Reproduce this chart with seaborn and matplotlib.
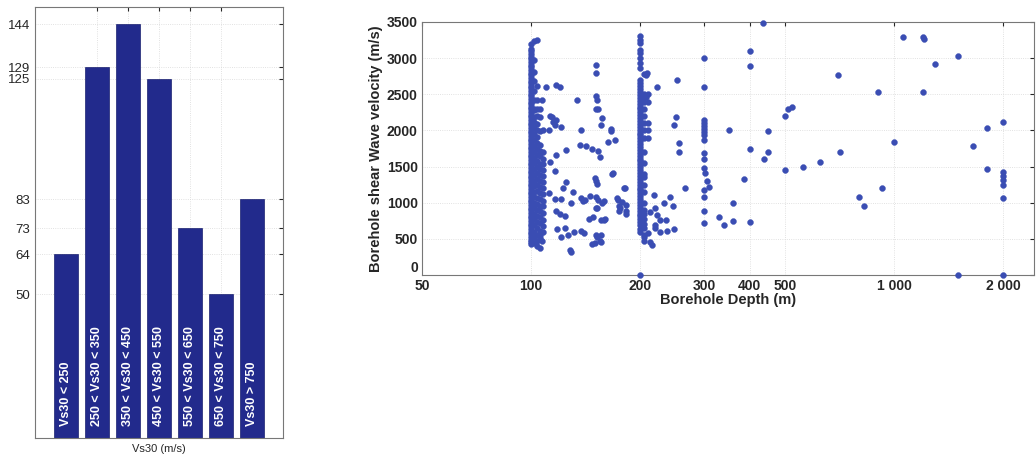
import pandas as pd
import seaborn as sns
import matplotlib.pyplot as plt
from matplotlib.ticker import NullLocator

# --- histogramme Vs30 (gauche)
vs30_classes = ['Vs30 < 250', '250 < Vs30 < 350', '350 < Vs30 < 450', '450 < Vs30 < 550',
                '550 < Vs30 < 650', '650 < Vs30 < 750', 'Vs30 > 750']
vs30_counts = [64, 129, 144, 125, 73, 50, 83]
vs30_yticks = [50, 64, 73, 83, 125, 129, 144]

# --- nuage profondeur / vitesse (droite)
# colonnes de points alignes sur une meme profondeur
vel_d100 = [425, 455, 490, 530, 565, 600, 640, 675, 710, 745, 785, 820, 855, 895, 930, 965,
            1005, 1040, 1075, 1115, 1150, 1190, 1225, 1260, 1300, 1335, 1370, 1410, 1445, 1480,
            1520, 1555, 1590, 1630, 1665, 1700, 1740, 1775, 1810, 1850, 1885, 1920, 1960, 1995,
            2030, 2070, 2105, 2140, 2180, 2215, 2250, 2290, 2325, 2360, 2400, 2435, 2470, 2510,
            2545, 2580, 2620, 2655, 2690, 2730, 2765, 2800, 2840, 2875, 2910, 2950, 2985, 3020,
            3060, 3095, 3130, 3200]
vel_d102 = [440, 520, 600, 690, 770, 840, 920, 1000, 1085, 1150, 1230, 1305, 1390, 1465, 1545,
            1625, 1705, 1790, 1870, 1950, 2030, 2110, 2190, 2280, 2300, 2420, 2550, 2680, 2810,
            2970, 3240]
vel_d104 = [400, 470, 560, 650, 735, 815, 900, 985, 1070, 1160, 1240, 1325, 1405, 1490, 1575,
            1660, 1745, 1830, 1915, 2000, 2090, 2200, 2290, 2420, 2610, 3250]
vel_d106 = [380, 515, 610, 720, 800, 880, 960, 1045, 1130, 1215, 1300, 1380, 1460, 1540, 1640,
            1720, 1800, 1990, 2180, 2300]
vel_d108 = [590, 680, 760, 860, 950, 1030, 1120, 1210, 1290, 1370, 1450, 1530, 1610, 1700, 2010]
vel_d200 = [0, 600, 640, 690, 730, 770, 810, 850, 890, 930, 970, 1010, 1050, 1090, 1130, 1170,
            1210, 1250, 1290, 1330, 1370, 1410, 1450, 1490, 1530, 1570, 1610, 1650, 1690, 1730,
            1770, 1810, 1850, 1890, 1930, 1970, 2010, 2050, 2090, 2130, 2170, 2210, 2250, 2290,
            2330, 2370, 2410, 2450, 2490, 2530, 2570, 2610, 2650, 2700, 2870, 2930, 3000, 3070,
            3110, 3210, 3250, 3300]
vel_d204 = [470, 520, 560, 650, 700, 780, 850, 900, 1000, 1150, 1250, 1350, 1400, 1550, 1700,
            1900, 2000, 2100, 2200, 2300, 2400, 2460, 2500, 2780]
vel_d300 = [720, 885, 1085, 1175, 1480, 1600, 1690, 1870, 1940, 1980, 2020, 2060, 2100, 2140,
            2600, 3000]

# points isoles
other_depth = [107, 110, 117, 120, 134, 151, 151, 151, 152, 151, 153, 157, 114, 117, 115, 116,
               121, 112, 125, 137, 136, 142, 147, 153, 155, 163, 166, 170, 167, 180, 150, 151,
               152, 151, 153, 145, 141, 137, 139, 172, 178, 182, 182, 183, 151, 152, 148, 144,
               160, 151, 152, 155, 150, 147, 128, 129, 137, 140, 117, 120, 124, 118, 121, 126,
               106, 107, 112, 116, 122, 125, 130, 129, 113, 116, 117, 113, 121, 124, 131,
               209, 207, 222, 252, 210, 207, 210, 250, 248, 210, 210, 210, 350, 400, 400, 255,
               166, 156, 256, 168, 181, 173, 159, 157, 175, 176, 175, 159, 156, 156, 156, 218,
               241, 233, 246, 220, 213, 222, 227, 235, 220, 220, 227, 237, 248, 213, 215, 210,
               266, 301, 305, 310, 330, 340, 359, 359, 387, 400, 400, 435, 437, 450, 450, 500,
               502, 509, 524, 561, 627, 701, 710, 803, 828, 903, 925, 1000, 1060, 1200, 1206,
               1200, 1293, 1502, 1502, 1649, 1805, 1805, 2000, 2000, 2000, 2000, 2000, 2000, 2000]
other_vel = [2420, 2604, 2630, 2600, 2420, 2905, 2794, 2475, 2420, 2300, 2300, 2170, 2185, 2150,
             2120, 2080, 2047, 2000, 1729, 2005, 1805, 1785, 1740, 1710, 1630, 1840, 2020, 1870,
             1400, 1200, 1340, 1300, 1260, 1080, 1040, 1090, 1040, 1060, 1020, 1060, 1010, 970,
             880, 840, 930, 920, 800, 770, 780, 560, 530, 470, 440, 430, 340, 320, 610, 580, 880,
             850, 820, 640, 520, 550, 560, 470, 1130, 1050, 1210, 1290, 1150, 1000, 1560, 1440,
             1660, 2200, 1050, 650, 590,
             2794, 2770, 2604, 2697, 2500, 2460, 2400, 2180, 2070, 2100, 2000, 1900, 2005, 3098,
             2897, 1826, 1990, 2080, 1705, 1410, 1203, 1040, 1018, 1000, 950, 920, 880, 760, 760,
             553, 460, 1106, 1083, 1000, 950, 920, 870, 830, 760, 760, 690, 650, 600, 612, 630,
             460, 415, 580,
             1203, 1410, 1300, 1217, 802, 691, 1000, 751, 1328, 1743, 733, 3490, 1604, 1996, 1697,
             1456, 2199, 2296, 2328, 1498, 1563, 2766, 1697, 1083, 950, 2527, 1199, 1835, 3296,
             3296, 3260, 2527, 2918, 3033, 0, 1788, 2029, 1470, 2116, 1429, 1369, 1310, 1245,
             1069, 0]

depth_x_ticks = [50, 100, 200, 300, 400, 500, 1000, 2000]
depth_x_labels = ['50', '100', '200', '300', '400', '500', '1 000', '2 000']
vel_y_ticks = [0, 500, 1000, 1500, 2000, 2500, 3000, 3500]

colonnes = {100: vel_d100, 102: vel_d102, 104: vel_d104, 106: vel_d106, 108: vel_d108,
            200: vel_d200, 204: vel_d204, 300: vel_d300}
frames = [pd.DataFrame({'depth': d, 'vel': v}) for d, v in colonnes.items()]
frames.append(pd.DataFrame({'depth': other_depth, 'vel': other_vel}))
df_pts = pd.concat(frames, ignore_index=True)

sns.set_style('white')
plt.rcParams['font.family'] = ['Liberation Sans', 'DejaVu Sans']

fig = plt.figure(figsize=(10.36, 4.62), dpi=100)
ax1 = fig.add_axes([0.0338, 0.052, 0.2394, 0.933])
ax2 = fig.add_axes([0.4073, 0.4048, 0.5907, 0.5476])

# gauche : barres
df_bar = pd.DataFrame({'classe': vs30_classes, 'n': vs30_counts})
sns.barplot(data=df_bar, x='classe', y='n', color='#222a8c', saturation=1, width=0.8,
            edgecolor='#1a2070', linewidth=0.5, ax=ax1)
ax1.set_xlim(-1, 7)
ax1.set_ylim(0, 150)
ax1.set_xticks([1, 2, 3, 4, 5])
ax1.set_yticks(vs30_yticks)
ax1.tick_params(axis='x', labelbottom=False, direction='in', top=True, length=3)
ax1.tick_params(axis='y', direction='in', right=True, length=3, labelsize=9.5)
for i, lab in enumerate(vs30_classes):
    ax1.text(i, 4, lab, rotation=90, ha='center', va='bottom', color='white',
             fontweight='bold', fontsize=9)
ax1.set_xlabel('Vs30 (m/s)', fontsize=8, labelpad=4)
ax1.set_ylabel('')
ax1.grid(True, ls=':', color='#d8d8d8', lw=0.6)
ax1.set_axisbelow(True)
for sp in ax1.spines.values():
    sp.set_color('#777777')
    sp.set_linewidth(0.8)

# droite : nuage de points
sns.scatterplot(data=df_pts, x='depth', y='vel', color='#3a4db3', edgecolor='#3a4db3',
                s=18, linewidth=0.3, clip_on=False, ax=ax2, zorder=3)
ax2.set_xscale('log')
ax2.set_xlim(50, 2430)
ax2.set_ylim(0, 3500)
ax2.xaxis.set_minor_locator(NullLocator())
ax2.set_xticks(depth_x_ticks, depth_x_labels, fontweight='bold', fontsize=10)
ax2.set_yticks(vel_y_ticks, [str(v) for v in vel_y_ticks], fontweight='bold', fontsize=10)
ax2.get_yticklabels()[0].set_verticalalignment('bottom')
ax2.tick_params(axis='x', direction='in', top=True, length=3, pad=3)
ax2.tick_params(axis='y', direction='in', right=True, length=3, pad=3)
ax2.set_xlabel('Borehole Depth (m)', fontweight='bold', fontsize=10.5, labelpad=0)
ax2.set_ylabel('Borehole shear Wave velocity (m/s)', fontweight='bold', fontsize=10.5,
               labelpad=3)
ax2.grid(True, ls=':', color='#d8d8d8', lw=0.6)
ax2.set_axisbelow(True)
for sp in ax2.spines.values():
    sp.set_color('#777777')
    sp.set_linewidth(0.8)

fig.savefig('out.png', dpi=100)
